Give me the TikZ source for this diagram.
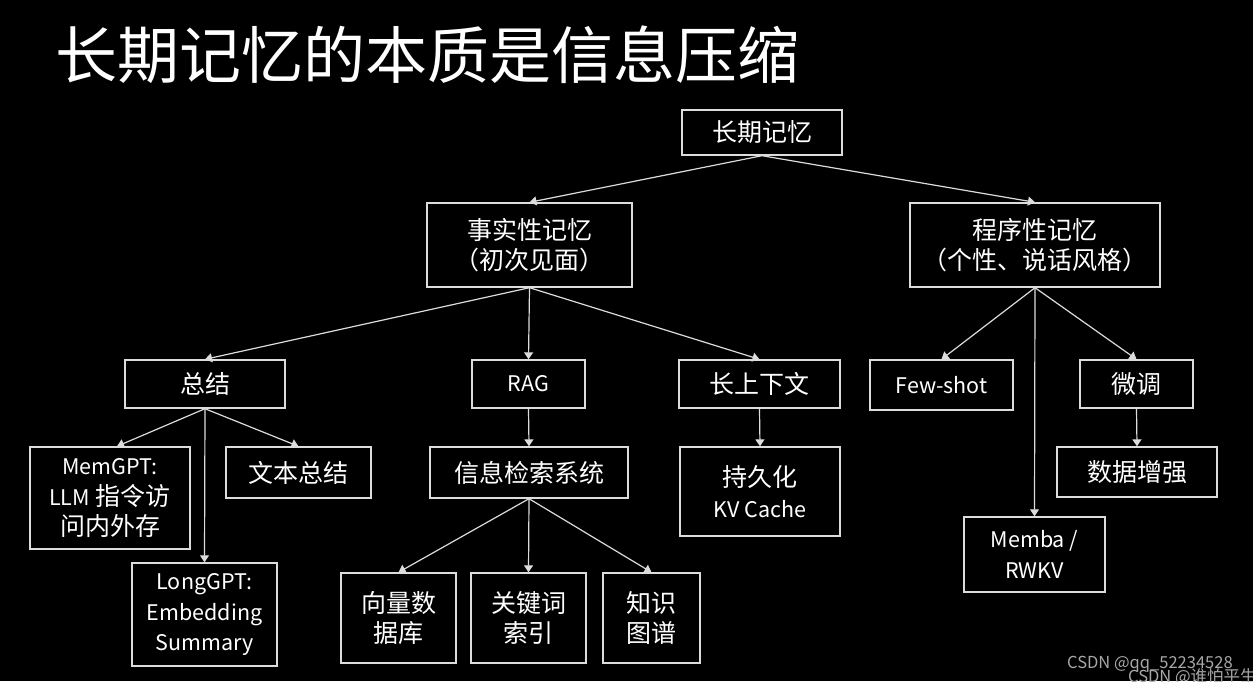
\documentclass[tikz,border=0pt]{standalone}
\usepackage{fontspec}
\setmainfont{Noto Sans CJK SC}
\usetikzlibrary{arrows.meta}
\definecolor{ln}{HTML}{DCDCDC}
\definecolor{wm}{HTML}{A8A8A8}
\newcommand{\lat}[1]{{\fontsize{21.5}{30}\selectfont #1}}
\tikzset{
  box/.style={draw=ln, line width=1.4pt, text=white, align=center, inner sep=0pt,
    font=\fontsize{25}{30.5}\selectfont},
  conn/.style={draw=ln, line width=1.2pt, -{Triangle[width=9pt,length=7pt]}},
}
\newcommand{\bx}[5]{\node[box, minimum width=#3pt, minimum height=#4pt] (#1) at (#2) {#5};}
\begin{document}
\begin{tikzpicture}[x=1pt,y=-1pt]
\fill[black] (0,0) rectangle (1253,681);
\useasboundingbox (0,0) rectangle (1253,681);
\node[anchor=west, text=white, inner sep=0pt, font=\fontsize{62}{70}\selectfont] (title) at (55,55) {长期记忆的本质是信息压缩};
\bx{lt}{762,132.5}{160}{45}{长期记忆}
\bx{fact}{529.5,245}{205}{84}{事实性记忆\\（初次见面）}
\bx{proc}{1035,245}{250}{84}{程序性记忆\\（个性、说话风格）}
\bx{sum}{205,384}{160}{48}{总结}
\bx{rag}{528.5,384}{113}{48}{\lat{RAG}}
\bx{lctx}{759.5,384}{161}{48}{长上下文}
\bx{few}{941.5,385}{143}{50}{\lat{Few-shot}}
\bx{ft}{1136.5,384}{113}{48}{微调}
\bx{memgpt}{110,498}{160}{102}{\lat{MemGPT:}\\\lat{LLM} 指令访\\问内外存}
\bx{txtsum}{298.5,472.5}{145}{51}{文本总结}
\bx{longgpt}{204.5,614.5}{145}{103}{\lat{LongGPT:}\\\lat{Embedding}\\\lat{Summary}}
\bx{irs}{529,472.5}{198}{51}{信息检索系统}
\bx{kv}{760,491.5}{160}{89}{持久化\\\lat{KV Cache}}
\bx{aug}{1137,472}{160}{50}{数据增强}
\bx{memba}{1034.5,554.5}{141}{75}{\lat{Memba /}\\\lat{RWKV}}
\bx{vec}{398.5,618}{115}{90}{向量数\\据库}
\bx{kw}{528.5,618}{115}{90}{关键词\\索引}
\bx{kg}{651.5,618}{97}{90}{知识\\图谱}
\draw[conn] (lt.south) -- (fact.north);
\draw[conn] (lt.south) -- (proc.north);
\draw[conn] (fact.south) -- (sum.north);
\draw[conn] (fact.south) -- (rag.north);
\draw[conn] (fact.south) -- (lctx.north);
\draw[conn] (proc.south) -- (few.north);
\draw[conn] (proc.south) -- (memba.north);
\draw[conn] (proc.south) -- (ft.north);
\draw[conn] (sum.south) -- ([xshift=7pt]memgpt.north);
\draw[conn] (sum.south) -- (longgpt.north);
\draw[conn] (sum.south) -- (txtsum.north);
\draw[conn] (rag.south) -- (irs.north);
\draw[conn] (irs.south) -- (vec.north);
\draw[conn] (irs.south) -- (kw.north);
\draw[conn] (irs.south) -- (kg.north);
\draw[conn] (lctx.south) -- (kv.north);
\draw[conn] (ft.south) -- (aug.north);
\begin{scope}
\clip (0,0) rectangle (1253,681);
\node[anchor=base west, text=wm, inner sep=0pt, font=\fontsize{16.5}{18}\selectfont] (wm1) at (1067,668.5) {CSDN @qq\_52234528};
\node[anchor=base west, text=wm, inner sep=0pt, font=\fontsize{16.5}{18}\selectfont] (wm2) at (1128,682) {CSDN @谁怕平生};
\end{scope}
\end{tikzpicture}
\end{document}
